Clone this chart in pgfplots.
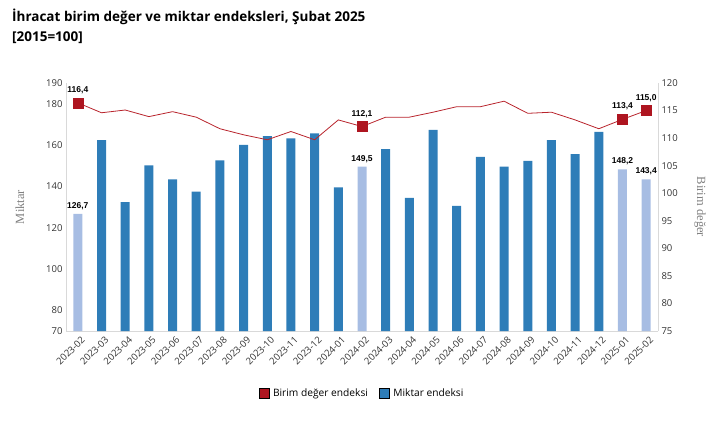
\documentclass[border=0pt]{standalone}
\usepackage{fontspec}
\setmainfont{Open Sans}
\newfontfamily\serifgray{Liberation Serif}
\newfontfamily\lblfont{Liberation Sans}
\usepackage{pgfplots}
\pgfplotsset{compat=1.18}
\definecolor{cDark}{HTML}{2E7DB8}
\definecolor{cLight}{HTML}{A7BDE3}
\definecolor{cRed}{HTML}{AE1520}
\definecolor{cLine}{HTML}{B8242C}
\definecolor{cAxis}{HTML}{D9D9D9}
\definecolor{cTick}{HTML}{333333}
\begin{document}
\begin{tikzpicture}[x=1pt,y=1pt]
\useasboundingbox (0,0) rectangle (718,426);
\node[anchor=west, font=\fontsize{13.5}{15}\selectfont\bfseries, inner sep=0pt] at (12,409) {İhracat birim değer ve miktar endeksleri, Şubat 2025};
\node[anchor=west, font=\fontsize{13.5}{15}\selectfont\bfseries, inner sep=0pt] at (12,388) {[2015=100]};
\begin{axis}[
  at={(66pt,95pt)}, anchor=south west, scale only axis,
  width=592pt, height=248pt,
  xmin=-0.5, xmax=24.5, ymin=70, ymax=190,
  ytick={70,80,100,120,140,160,180,190},
  xtick={0,...,24},
  xticklabels={2023-02,2023-03,2023-04,2023-05,2023-06,2023-07,2023-08,2023-09,2023-10,2023-11,2023-12,2024-01,2024-02,2024-03,2024-04,2024-05,2024-06,2024-07,2024-08,2024-09,2024-10,2024-11,2024-12,2025-01,2025-02},
  /pgf/number format/assume math mode=true,
  x tick label style={rotate=45, anchor=north east, font=\fontsize{9.5}{11}\selectfont, text=cTick, inner sep=1pt, yshift=-4pt},
  y tick label style={font=\fontsize{9.5}{11}\selectfont, text=cTick},
  major tick length=0pt,
  axis x line*=bottom, axis y line*=left,
  axis line style={cAxis, line width=0.8pt},
  every axis y label/.style={at={(axis description cs:-0.078,0.5)}, rotate=90, anchor=center, font=\serifgray\fontsize{12.5}{14}\selectfont, text=gray},
  ylabel={Miktar},
  clip=false,
]
\addplot[ybar, bar width=9pt, bar shift=0pt, fill=cDark, draw=none] coordinates {
 (1,162.4) (2,132.3) (3,150.2) (4,143.4) (5,137.4) (6,152.6) (7,160.0) (8,164.3) (9,163.2) (10,165.6) (11,139.5)
 (13,158.0) (14,134.4) (15,167.3) (16,130.5) (17,154.2) (18,149.5) (19,152.3) (20,162.4) (21,155.6) (22,166.4)};
\addplot[ybar, bar width=9pt, bar shift=0pt, fill=cLight, draw=none,
  nodes near coords, point meta=y,
  every node near coord/.append style={font=\lblfont\bfseries\fontsize{8.5}{10}\selectfont, anchor=south, inner sep=1pt, yshift=3pt, /pgf/number format/.cd, fixed, fixed zerofill, precision=1, use comma}]
 coordinates {(0,126.7) (12,149.5) (23,148.2) (24,143.4)};
\end{axis}
\begin{axis}[
  at={(66pt,95pt)}, anchor=south west, scale only axis,
  width=592pt, height=248pt,
  xmin=-0.5, xmax=24.5, ymin=75, ymax=120,
  ytick={75,80,...,120},
  xtick=\empty,
  /pgf/number format/assume math mode=true,
  y tick label style={font=\fontsize{9.5}{11}\selectfont, text=cTick},
  major tick length=0pt,
  axis x line=none, axis y line*=right,
  axis line style={cAxis, line width=0.8pt},
  every axis y label/.style={at={(axis description cs:1.071,0.5)}, rotate=-90, anchor=center, font=\serifgray\fontsize{12.5}{14}\selectfont, text=gray},
  ylabel={Birim değer},
  clip=false,
  legend style={at={(axis description cs:0.5,-0.25)}, anchor=center, draw=none, fill=none, font=\fontsize{10.2}{12}\selectfont, legend columns=2,
    /tikz/every odd column/.append style={column sep=2pt},
    /tikz/every even column/.append style={column sep=9pt}},
  legend image code/.code={\fill[#1] (0pt,-5pt) rectangle (10pt,5pt);},
]
\addplot[cLine, line width=0.8pt, no marks, forget plot] coordinates {
 (0,116.4) (1,114.6) (2,115.1) (3,113.9) (4,114.8) (5,113.8) (6,111.7) (7,110.6) (8,109.7) (9,111.2) (10,109.7) (11,113.3)
 (12,112.1) (13,113.8) (14,113.8) (15,114.7) (16,115.7) (17,115.7) (18,116.7) (19,114.5) (20,114.7) (21,113.3) (22,111.7)
 (23,113.4) (24,115.0)};
\addplot[only marks, mark=square*, mark size=5pt, mark options={fill=cRed, draw=cRed}, forget plot,
  nodes near coords, point meta=y,
  every node near coord/.append style={font=\lblfont\bfseries\fontsize{8.5}{10}\selectfont, anchor=south, inner sep=1pt, yshift=8pt, text=black, /pgf/number format/.cd, fixed, fixed zerofill, precision=1, use comma}]
 coordinates {(0,116.4) (12,112.1) (23,113.4) (24,115.0)};
\addlegendimage{fill=cRed}
\addlegendentry{Birim değer endeksi}
\addlegendimage{fill=cDark}
\addlegendentry{Miktar endeksi}
\end{axis}
\end{tikzpicture}
\end{document}
